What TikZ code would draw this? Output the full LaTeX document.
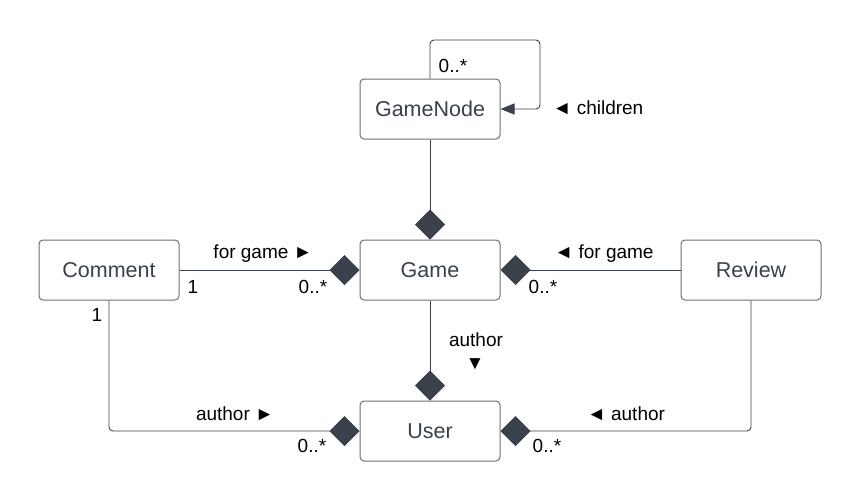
\documentclass[tikz,border=0pt]{standalone}
\usepackage{fontspec}
\setmainfont{Liberation Sans}
\usepackage{tikz}
\usetikzlibrary{arrows.meta,positioning}
\definecolor{ink}{HTML}{3A414A}
\definecolor{boxgray}{HTML}{6B7079}
\tikzset{
    %Define standard arrow tip
    >={Triangle[length=14pt,width=11pt]},
    %Define style for class boxes
    classbox/.style={
           rectangle,
           rounded corners=4pt,
           draw=boxgray, line width=1pt,
           minimum width=140pt,
           minimum height=60pt,
           font=\fontsize{21.5}{25}\selectfont,
           text=ink,
           text centered},
    %Define style for edge labels
    lbl/.style={
           font=\fontsize{19}{23}\selectfont,
           inner sep=0pt,
           text=black},
    % Define composition style
    comp/.style={
           -{Diamond[length=30pt,width=30pt]},
           draw=ink, line width=0.9pt,
           rounded corners=4pt},
    % Define plain link style
    link/.style={
           ->, draw=ink, fill=none, line width=0.9pt,
           rounded corners=4pt}
}
\begin{document}
\begin{tikzpicture}[x=1pt,y=-1pt]
\useasboundingbox[fill=white] (0,0) rectangle (860,501);

 %nodes
\node[classbox] (game) at (430,270) {Game};
\node[classbox, above=100pt of game] (gamenode) {GameNode};
\node[classbox, left=180pt of game] (comment) {Comment};
\node[classbox, right=180pt of game] (review) {Review};
\node[classbox, below=100pt of game] (user) {User};
\coordinate (loopturn) at (540,40);

 %edges
\draw[link] (gamenode.north) |- (loopturn) |- (gamenode.east);
\draw[comp] (gamenode.south) -- (game.north);
\draw[comp] (comment.east) -- (game.west);
\draw[comp] (review.west) -- (game.east);
\draw[comp] (game.south) -- (user.north);
\draw[comp] (comment.south) |- (user.west);
\draw[comp] (review.south) |- (user.east);

 %labels
\node[lbl] at (453,66) {0..*};
\node[lbl] at (598,108) {◄ children};
\node[lbl] at (263,254) {for game ►};
\node[lbl] at (193,287) {1};
\node[lbl] at (313,287) {0..*};
\node[lbl] at (97,315) {1};
\node[lbl] at (235,414) {author ►};
\node[lbl] at (312,446) {0..*};
\node[lbl] at (476,340) {author};
\node[lbl] at (475,364) {▼};
\node[lbl] at (604,254) {◄ for game};
\node[lbl] at (543,287) {0..*};
\node[lbl] at (626,414) {◄ author};
\node[lbl] at (547,446) {0..*};
\end{tikzpicture}
\end{document}
